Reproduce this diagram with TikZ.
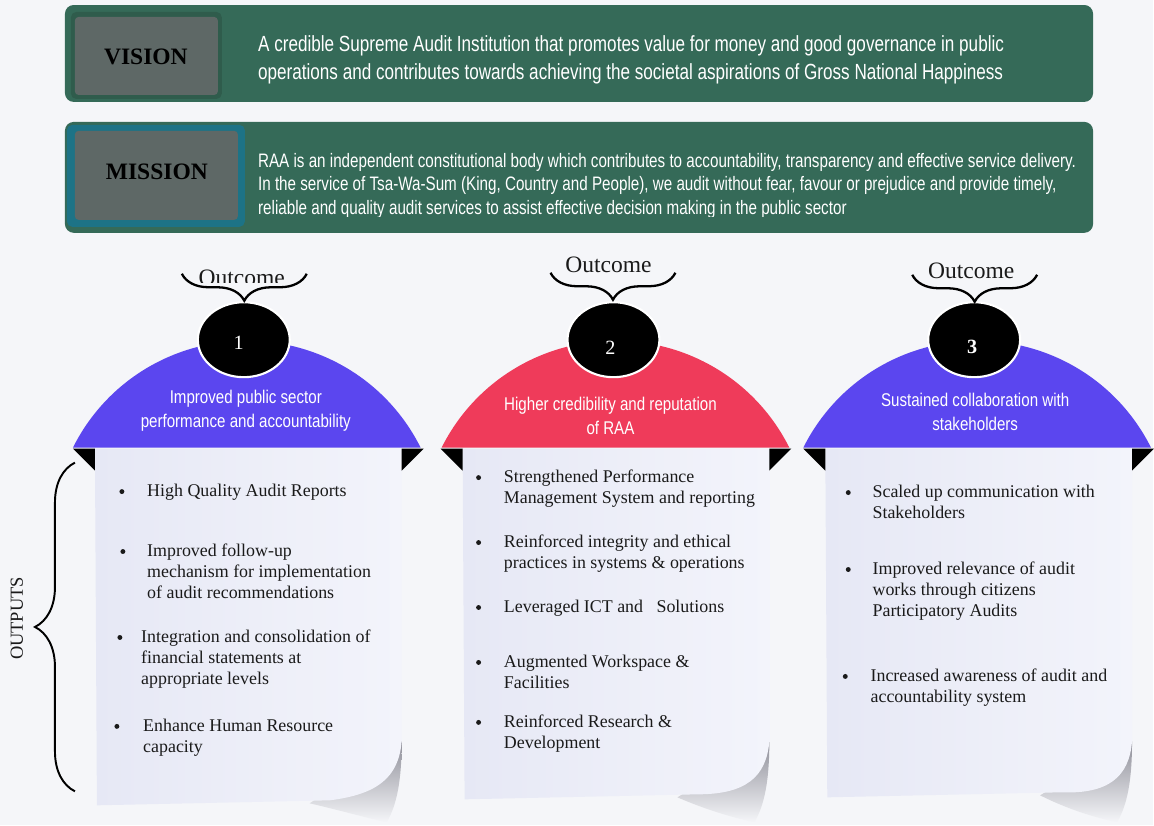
\documentclass[tikz,border=0pt]{standalone}
\usepackage{fontspec}
\setmainfont{Liberation Serif}
\newfontfamily\barfont[FakeStretch=0.78]{Liberation Sans}
\newfontfamily\domefont[FakeStretch=0.82]{Liberation Sans}
\usetikzlibrary{shapes.geometric,decorations.pathreplacing}

\definecolor{paperbg}{HTML}{F5F6F9}
\definecolor{bargreen}{HTML}{356A58}
\definecolor{bardark}{HTML}{2F5C4C}
\definecolor{tagfill}{HTML}{5E6866}
\definecolor{tealrim}{HTML}{1D7386}
\definecolor{domeblue}{HTML}{5B46EF}
\definecolor{domered}{HTML}{EF3B5A}
\definecolor{sheetleft}{HTML}{E6E8F5}
\definecolor{sheetright}{HTML}{F3F4FB}
\definecolor{curlshade}{HTML}{8E8E98}
\definecolor{ink}{HTML}{1A1A1A}

\tikzset{
  tag/.style={text=black, font=\fontsize{13.4}{16}\selectfont\bfseries},
  statement/.style={anchor=west, align=left, text=white, inner sep=0pt},
  numdot/.style={ellipse, fill=black, draw=white, line width=1.2pt,
    minimum width=1.84cm, minimum height=1.5cm, inner sep=0pt},
  numtext/.style={text=white, font=\fontsize{11.5}{13}\selectfont},
  dometext/.style={align=center, text=white, inner sep=0pt,
    font=\domefont\fontsize{10.5}{13.6}\selectfont},
  outcome/.style={font=\fontsize{13.4}{16}\selectfont, text=ink},
  item/.style={anchor=north west, align=left, inner sep=0pt, text=ink,
    font=\fontsize{10.2}{11.8}\selectfont},
  outbrace/.style={decorate, decoration={brace, mirror, amplitude=0.54cm}, line width=1.3pt},
  sidebrace/.style={decorate, decoration={brace, amplitude=0.8cm}, line width=1.1pt},
}

\begin{document}
\begin{tikzpicture}[x=0.02cm, y=-0.02cm]

  % background
  \fill[paperbg] (0,0) rectangle (1154,826);

  % vision and mission bars
  \fill[bargreen, rounded corners=5pt] (65,5) rectangle (1094,102);
  \fill[bargreen, rounded corners=5pt] (65,122) rectangle (1094,233);
  \fill[bardark, rounded corners=3pt] (71,12) rectangle (222,99);
  \fill[tagfill, rounded corners=2pt] (75,17) rectangle (218,95);
  \fill[tealrim, rounded corners=3pt] (67,125) rectangle (245,227);
  \fill[tagfill, rounded corners=2pt] (75,131) rectangle (238,220);
  \node[tag] (vision) at (146,57) {VISION};
  \node[tag] (mission) at (157,172) {MISSION};

  \node[statement, font=\barfont\fontsize{12.5}{15.9}\selectfont] (visiontext) at (258,60)
    {A credible Supreme Audit Institution that promotes value for money and good governance in public\\
     operations and contributes towards achieving the societal aspirations of Gross National Happiness};
  \begin{scope}
    \clip (65,122) rectangle (1094,217);
    \node[statement, font=\barfont\fontsize{11.1}{13.6}\selectfont] (missiontext) at (258,186)
      {RAA is an independent constitutional body which contributes to accountability, transparency and effective service delivery.\\
       In the service of Tsa-Wa-Sum (King, Country and People), we audit without fear, favour or prejudice and provide timely,\\
       reliable and quality audit services to assist effective decision making in the public sector};
  \end{scope}

  % output sheets with curled corner
  \foreach \sx/\sb in {95/806, 463/800, 826/798} {
      \shade[shading angle=45, top color=curlshade, bottom color=paperbg]
        (\sx+307,742) .. controls (\sx+307,782) and (\sx+302,806) .. (\sx+292,823)
        .. controls (\sx+270,818) and (\sx+245,811) .. (\sx+215,\sb-2) -- cycle;
      \shade[left color=sheetleft, right color=sheetright] (\sx,449) -- (\sx+307,449) -- (\sx+307,742)
        .. controls (\sx+304,778) and (\sx+283,795) .. (\sx+235,\sb-5) -- (\sx+2,\sb) -- cycle;
      \fill[black] (\sx-22,449) -- (\sx,449) -- (\sx,471) -- cycle;
      \fill[black] (\sx+307,449) -- (\sx+329,449) -- (\sx+307,471) -- cycle;
    }

  % outcome domes
  \foreach \cx/\col in {247/domeblue, 616/domered, 978/domeblue} {
      \fill[\col] (\cx-174,448) .. controls (\cx-141,382) and (\cx-74,341) .. (\cx,341)
        .. controls (\cx+74,341) and (\cx+141,382) .. (\cx+174,448) -- cycle;
    }

  % numbered circles
  \node[numdot] (dot1) at (244,340) {};
  \node[numdot] (dot2) at (614,340) {};
  \node[numdot] (dot3) at (975,340) {};
  \node[numtext] (num1) at (239,343) {1};
  \node[numtext] (num2) at (611,348) {2};
  \node[numtext, font=\fontsize{11.5}{13}\selectfont\bfseries] (num3) at (973,347) {3};

  \node[dometext] (title1) at (246,411) {Improved public sector\\performance and accountability};
  \node[dometext] (title2) at (611,416) {Higher credibility and reputation\\of RAA};
  \node[dometext] (title3) at (976,412) {Sustained collaboration with\\stakeholders};

  % outcome braces
  \begin{scope}
    \clip (150,250) rectangle (340,283);
    \node[outcome] (out1) at (242,278) {Outcome};
  \end{scope}
  \node[outcome] (out2) at (609,265) {Outcome};
  \node[outcome] (out3) at (972,271) {Outcome};
  \coordinate (b1l) at (182,274);  \coordinate (b1r) at (307,274);
  \coordinate (b2l) at (551,273);  \coordinate (b2r) at (676,273);
  \coordinate (b3l) at (913,275);  \coordinate (b3r) at (1038,275);
  \foreach \k in {1,2,3}
    \draw[outbrace] (b\k l) -- (b\k r);

  % outputs brace
  \coordinate (sbot) at (75,792);
  \coordinate (stop) at (75,463);
  \draw[sidebrace] (sbot) -- (stop);
  \node[rotate=90, text=ink, font=\fontsize{10.5}{12}\selectfont] (outputs) at (17,619) {OUTPUTS};

  % output items
  \foreach \bx/\tx/\by/\txt [count=\k] in {
      122/147/497/{High Quality Audit Reports},
      123/147/557/{Improved follow-up\\mechanism for implementation\\of audit recommendations},
      120/141/643/{Integration and consolidation of\\financial statements at\\appropriate levels},
      117/143/732/{Enhance Human Resource\\capacity},
      479/504/483/{Strengthened Performance\\Management System and reporting},
      479/504/548/{Reinforced integrity and ethical\\practices in systems \& operations},
      479/504/613/{Leveraged ICT and\ \ \ Solutions},
      479/504/668/{Augmented Workspace \&\\Facilities},
      479/504/728/{Reinforced Research \&\\Development},
      849/873/498/{Scaled up communication with\\Stakeholders},
      849/873/575/{Improved relevance of audit\\works through citizens\\Participatory Audits},
      846/871/682/{Increased awareness of audit and\\accountability system}} {
      \fill[ink] (\bx,\by-5) circle[radius=1.4pt];
      \node[item] (item\k) at (\tx,\by-14.6) {\strut\txt};
    }

\end{tikzpicture}
\end{document}
